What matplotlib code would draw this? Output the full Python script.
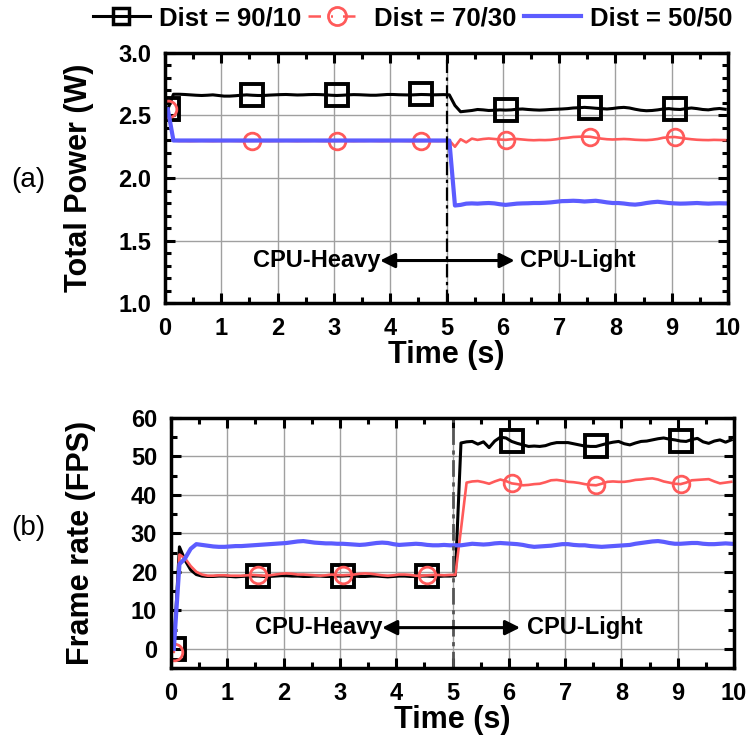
"""
Total power and frame rate for three CPU/GPU distributions
"""
import numpy as np
import matplotlib
matplotlib.use('Agg')
import matplotlib.pyplot as plt
from matplotlib.lines import Line2D
from matplotlib.ticker import MultipleLocator, FormatStrFormatter

plt.rcParams['font.family'] = ['Liberation Sans', 'DejaVu Sans']
plt.rcParams['font.weight'] = 'bold'

# sampling instants (s)
time_s = np.arange(100) * 0.1 + 0.05

labels = ['Dist = 90/10', 'Dist = 70/30', 'Dist = 50/50']

power_9010 = [
    2.55, 2.67, 2.67, 2.668, 2.665, 2.662, 2.66, 2.662, 2.665, 2.66,
    2.655, 2.655, 2.658, 2.662, 2.665, 2.662, 2.66, 2.66, 2.663, 2.665,
    2.667, 2.668, 2.666, 2.664, 2.665, 2.667, 2.668, 2.667, 2.665, 2.662,
    2.66, 2.662, 2.665, 2.667, 2.666, 2.664, 2.662, 2.662, 2.665, 2.668,
    2.668, 2.666, 2.665, 2.664, 2.666, 2.668, 2.667, 2.665, 2.666, 2.667,
    2.665, 2.58, 2.53, 2.535, 2.54, 2.548, 2.545, 2.54, 2.542, 2.545,
    2.543, 2.545, 2.55, 2.552, 2.548, 2.545, 2.543, 2.545, 2.548, 2.55,
    2.552, 2.555, 2.56, 2.562, 2.565, 2.562, 2.558, 2.555, 2.552, 2.556,
    2.562, 2.565, 2.56, 2.55, 2.542, 2.538, 2.54, 2.545, 2.552, 2.555,
    2.55, 2.548, 2.555, 2.56, 2.555, 2.548, 2.545, 2.552, 2.556, 2.55,
]
power_7030 = [
    2.55, 2.30, 2.296, 2.296, 2.295, 2.296, 2.297, 2.296, 2.295, 2.296,
    2.296, 2.297, 2.296, 2.295, 2.296, 2.296, 2.297, 2.296, 2.295, 2.296,
    2.296, 2.297, 2.296, 2.295, 2.296, 2.296, 2.297, 2.296, 2.295, 2.296,
    2.296, 2.297, 2.296, 2.295, 2.296, 2.296, 2.297, 2.296, 2.295, 2.296,
    2.296, 2.297, 2.296, 2.295, 2.296, 2.296, 2.297, 2.296, 2.295, 2.296,
    2.30, 2.25, 2.31, 2.285, 2.315, 2.305, 2.312, 2.316, 2.312, 2.308,
    2.305, 2.31, 2.312, 2.308, 2.304, 2.302, 2.304, 2.303, 2.305, 2.31,
    2.318, 2.322, 2.328, 2.33, 2.331, 2.33, 2.322, 2.315, 2.31, 2.308,
    2.31, 2.312, 2.31, 2.306, 2.304, 2.303, 2.306, 2.312, 2.322, 2.326,
    2.328, 2.322, 2.315, 2.31, 2.306, 2.304, 2.303, 2.305, 2.304, 2.303,
]
power_5050 = [
    2.55, 2.30, 2.30, 2.30, 2.30, 2.30, 2.30, 2.30, 2.30, 2.30,
    2.30, 2.30, 2.30, 2.30, 2.30, 2.30, 2.30, 2.30, 2.30, 2.30,
    2.30, 2.30, 2.30, 2.30, 2.30, 2.30, 2.30, 2.30, 2.30, 2.30,
    2.30, 2.30, 2.30, 2.30, 2.30, 2.30, 2.30, 2.30, 2.30, 2.30,
    2.30, 2.30, 2.30, 2.30, 2.30, 2.30, 2.30, 2.30, 2.30, 2.30,
    2.30, 1.78, 1.785, 1.795, 1.797, 1.795, 1.798, 1.80, 1.797, 1.79,
    1.785, 1.79, 1.795, 1.797, 1.798, 1.80, 1.80, 1.802, 1.805, 1.81,
    1.815, 1.816, 1.818, 1.816, 1.812, 1.815, 1.818, 1.812, 1.805, 1.80,
    1.80, 1.796, 1.79, 1.787, 1.792, 1.80, 1.806, 1.81, 1.805, 1.80,
    1.797, 1.795, 1.796, 1.798, 1.80, 1.797, 1.795, 1.797, 1.798, 1.797,
]

fps_9010 = [
    0.0, 26.5, 23.0, 20.5, 19.3, 18.9, 18.8, 18.8, 18.9, 18.9,
    18.8, 18.7, 18.8, 18.9, 18.9, 18.9, 18.8, 18.8, 18.9, 19.0,
    19.0, 18.9, 18.9, 18.8, 18.8, 18.9, 18.9, 18.8, 18.8, 18.9,
    18.9, 19.0, 18.9, 18.8, 18.8, 18.9, 18.9, 18.8, 18.7, 18.8,
    18.9, 18.9, 18.8, 18.8, 18.9, 18.9, 18.8, 18.8, 18.9, 18.9,
    19.0, 53.5, 53.8, 53.9, 53.2, 53.8, 52.3, 54.0, 55.0, 54.8,
    53.9, 53.4, 53.0, 52.6, 52.7, 52.6, 52.8, 53.3, 53.6, 53.6,
    53.6, 53.3, 53.0, 52.7, 52.6, 52.6, 53.0, 53.4, 53.7, 53.9,
    53.3, 53.0, 53.5, 53.9, 54.0, 54.3, 54.6, 54.8, 54.5, 54.3,
    54.0, 53.9, 54.4, 54.7, 53.8, 53.4, 54.0, 54.3, 53.7, 54.3,
]
fps_7030 = [
    -0.8, 24.5, 23.5, 21.5, 20.0, 19.3, 19.0, 19.0, 19.1, 19.1,
    19.0, 19.0, 19.0, 19.1, 19.2, 19.1, 19.0, 19.1, 19.3, 19.5,
    19.6, 19.5, 19.3, 19.3, 19.2, 19.1, 19.0, 19.1, 19.3, 19.2,
    19.1, 19.2, 19.3, 19.5, 19.6, 19.5, 19.3, 19.1, 19.0, 19.1,
    19.3, 19.3, 19.2, 19.0, 19.0, 19.1, 19.2, 19.2, 19.1, 19.2,
    19.2, 31.0, 43.2, 43.5, 43.6, 43.3, 42.9, 43.5, 44.0, 43.6,
    43.0, 42.8, 42.5, 42.6, 42.8, 42.9, 43.3, 43.8, 43.9, 43.7,
    43.4, 43.3, 43.1, 42.8, 42.6, 42.5, 42.9, 43.4, 43.5, 43.4,
    43.4, 43.6, 43.9, 44.0, 44.2, 44.3, 44.0, 43.5, 43.2, 42.9,
    42.8, 43.2, 43.8, 43.9, 44.0, 44.1, 43.5, 43.0, 43.2, 43.4,
]
fps_5050 = [
    0.0, 22.0, 23.5, 26.0, 27.2, 27.0, 26.8, 26.6, 26.5, 26.5,
    26.6, 26.7, 26.7, 26.8, 26.9, 27.0, 27.1, 27.2, 27.3, 27.4,
    27.5, 27.7, 27.9, 28.0, 27.8, 27.6, 27.5, 27.4, 27.4, 27.3,
    27.3, 27.2, 27.1, 27.0, 27.1, 27.3, 27.5, 27.6, 27.5, 27.2,
    27.0, 27.1, 27.2, 27.3, 27.2, 27.0, 26.9, 26.9, 27.0, 26.9,
    26.9, 26.9, 27.1, 27.3, 27.2, 27.1, 27.2, 27.4, 27.5, 27.4,
    27.3, 27.2, 27.0, 26.7, 26.5, 26.6, 26.7, 26.8, 27.0, 27.2,
    27.2, 27.0, 26.9, 26.9, 26.7, 26.6, 26.5, 26.6, 26.7, 26.8,
    26.9, 27.0, 27.3, 27.5, 27.7, 27.9, 28.0, 27.8, 27.5, 27.3,
    27.3, 27.4, 27.5, 27.5, 27.3, 27.2, 27.2, 27.3, 27.4, 27.3,
]

BLACK = 'black'
RED = '#ff5a5a'
BLUE = '#5c5cff'


def style_axes(ax, ylim, ymajor, yminor):
    ax.set_xlim(0, 10)
    ax.set_ylim(*ylim)
    ax.xaxis.set_major_locator(MultipleLocator(1))
    ax.xaxis.set_minor_locator(MultipleLocator(0.5))
    ax.yaxis.set_major_locator(MultipleLocator(ymajor))
    ax.yaxis.set_minor_locator(MultipleLocator(yminor))
    ax.grid(True, which='major', color='#a0a0a0', lw=1.0)
    ax.set_axisbelow(True)
    ax.tick_params(which='both', direction='in', top=True, right=True,
                   width=2.2, labelsize=17, pad=10)
    ax.tick_params(which='major', length=7)
    ax.tick_params(which='minor', length=4.5)
    for sp in ax.spines.values():
        sp.set_linewidth(2.5)
    ax.set_xlabel('Time (s)', fontsize=22, fontweight='bold', labelpad=0)


def draw_series(ax, s9010, s7030, s5050):
    ax.plot(time_s, s9010, color=BLACK, lw=2.2, marker='s', ms=16,
            mfc='none', mew=2.8, markevery=15)
    ax.plot(time_s, s7030, color=RED, lw=1.9, marker='o', ms=12,
            mfc='none', mew=2.0, markevery=15)
    ax.plot(time_s, s5050, color=BLUE, lw=3.0)


def phase_arrows(ax, y, left_tip, right_tip, text_gap):
    arrow = dict(arrowstyle='-|>', lw=2.2, color='black',
                 mutation_scale=22, shrinkA=0, shrinkB=0)
    ax.annotate('', xy=(left_tip, y), xytext=(5, y), arrowprops=arrow)
    ax.annotate('', xy=(right_tip, y), xytext=(5, y), arrowprops=arrow)
    ax.text(left_tip, y, 'CPU-Heavy', ha='right', va='center',
            fontsize=17, fontweight='bold')
    ax.text(right_tip + text_gap, y, 'CPU-Light', ha='left', va='center',
            fontsize=17, fontweight='bold')


fig = plt.figure(figsize=(7.51, 7.42), dpi=100)

# (a) total power
ax1 = fig.add_axes([0.2197, 0.5916, 0.7497, 0.337])
draw_series(ax1, power_9010, power_7030, power_5050)
style_axes(ax1, (1.0, 3.0), 0.5, 0.1)
ax1.yaxis.set_major_formatter(FormatStrFormatter('%.1f'))
ax1.axvline(5, color='black', lw=1.6, linestyle=(0, (6, 2, 1.5, 2)))
ax1.set_ylabel('Total Power (W)', fontsize=22, fontweight='bold')
ax1.yaxis.set_label_coords(-0.126, 0.5)
phase_arrows(ax1, 1.34, 3.82, 6.21, 0.1)

# (b) frame rate
ax2 = fig.add_axes([0.2277, 0.0997, 0.7497, 0.337])
draw_series(ax2, fps_9010, fps_7030, fps_5050)
style_axes(ax2, (-5, 60), 10, 5)
ax2.axvline(5, color='#555555', lw=2.0, linestyle=(0, (6, 2, 1.5, 2)))
ax2.set_ylabel('Frame rate (FPS)', fontsize=22, fontweight='bold')
ax2.yaxis.set_label_coords(-0.133, 0.5)
phase_arrows(ax2, 5.5, 3.75, 6.2, 0.12)

fig.text(28 / 751, 1 - 180 / 742, '(a)', fontsize=20, fontweight='normal',
         ha='center', va='center')
fig.text(28 / 751, 1 - 528 / 742, '(b)', fontsize=20, fontweight='normal',
         ha='center', va='center')

handles = [
    Line2D([], [], color=BLACK, lw=2.2, marker='s', ms=11.5, mfc='none', mew=2.5),
    Line2D([], [], color=RED, lw=1.8, linestyle=(0, (5, 4, 0.8, 4)),
           marker='o', ms=13, mfc='none', mew=2.0),
    Line2D([], [], color=BLUE, lw=3.0),
]
fig.legend(handles, labels, loc='center left', bbox_to_anchor=(93 / 751, 1 - 18 / 742),
           ncol=3, frameon=False, handlelength=2.2,
           handletextpad=0.35, columnspacing=0.3, borderpad=0, borderaxespad=0,
           prop={'weight': 'bold', 'size': 18.5})

fig.savefig('out.png', dpi=100)
